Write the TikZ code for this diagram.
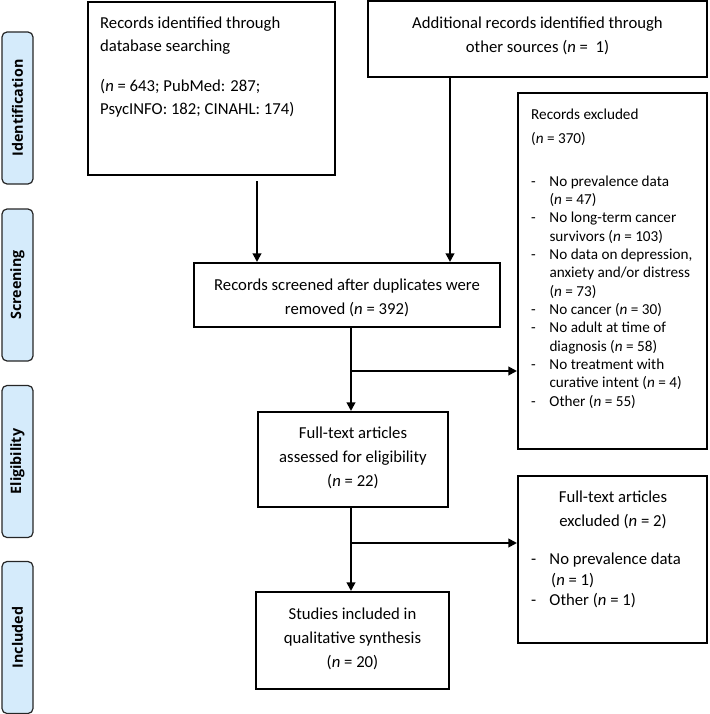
\documentclass[tikz,border=0pt]{standalone}
\usepackage{fontspec}
\setmainfont{Carlito}
\newfontfamily\labfont{Open Sans}
\usetikzlibrary{arrows.meta}
\definecolor{labblue}{HTML}{D5EBFB}
\newcommand\bulletdash{\makebox[18.3pt][l]{-}}
\newcommand\bulletind{\hspace*{18.3pt}}
\begin{document}
\begin{tikzpicture}[x=1pt,y=-1pt,
  box/.style={draw=black, line width=2.1pt, inner sep=0pt},
  txt/.style={inner sep=0pt, font=\fontsize{16.7}{23.5}\selectfont},
  txtsmall/.style={inner sep=0pt, font=\fontsize{15.2}{18.33}\selectfont},
  lab/.style={draw=black!85, line width=1.2pt, rounded corners=5pt, fill=labblue,
    rotate=90, minimum width=152pt, minimum height=31pt, inner sep=0pt,
    font=\labfont\bfseries\fontsize{14.3}{16}\selectfont},
  arr/.style={line width=2pt, -{Triangle[length=8.5pt,width=8.5pt]}}]
\useasboundingbox (0,0) rectangle (709,714);

% phase labels
\node[lab] (lid) at (17.5,108) {Identification};
\node[lab] (lsc) at (17.5,285) {Screening};
\node[lab] (lel) at (17.5,461.5) {Eligibility};
\node[lab] (lin) at (17.5,637.5) {Included};

% boxes
\node[box, minimum width=247pt, minimum height=173pt] (b1) at (211.5,88.5) {};
\node[txt, anchor=west, align=left] (b1t) at (100,67)
  {Records identified through\\ database searching\\[16pt]
   (\textit{n} = 643; PubMed: 287;\\ PsycINFO: 182; CINAHL: 174)};

\node[box, minimum width=339pt, minimum height=76pt] (b2) at (537.5,39) {};
\node[txt, align=center] (b2t) at (537.5,36)
  {Additional records identified through\\ other sources (\textit{n} = \ 1)};

\node[box, minimum width=306pt, minimum height=64pt] (sc) at (347,295) {};
\node[txt, align=center, font=\fontsize{16.7}{24}\selectfont] (sct) at (347,298)
  {Records screened after duplicates were\\ removed (\textit{n} = 392)};

\node[box, minimum width=189pt, minimum height=356pt] (ex1) at (612.5,271) {};
\node[txtsmall, anchor=west, align=left] (ex1t) at (531,258.5)
  {Records excluded\\[5.7pt] (\textit{n} = 370)\\[24.7pt]
   \bulletdash No prevalence data\\ \bulletind(\textit{n} = 47)\\
   \bulletdash No long-term cancer\\ \bulletind survivors (\textit{n} = 103)\\
   \bulletdash No data on depression,\\ \bulletind anxiety and/or distress\\ \bulletind(\textit{n} = 73)\\
   \bulletdash No cancer (\textit{n} = 30)\\
   \bulletdash No adult at time of\\ \bulletind diagnosis (\textit{n} = 58)\\
   \bulletdash No treatment with\\ \bulletind curative intent (\textit{n} = 4)\\
   \bulletdash Other (\textit{n} = 55)};

\node[box, minimum width=190pt, minimum height=95pt] (ft) at (353,459.5) {};
\node[txt, align=center, font=\fontsize{16.7}{24}\selectfont] (ftt) at (353,458)
  {Full-text articles\\ assessed for eligibility\\ (\textit{n} = 22)};

\node[box, minimum width=189pt, minimum height=167pt] (ex2) at (612.5,559.5) {};
\node[txt, align=center, font=\fontsize{16.7}{24}\selectfont] (ex2h) at (613,510)
  {Full-text articles\\ excluded (\textit{n} = 2)};
\node[txt, anchor=west, align=left, font=\fontsize{16.7}{20.5}\selectfont] (ex2t) at (531,580.5)
  {\bulletdash No prevalence data\\ \hspace*{20pt}(\textit{n} = 1)\\ \bulletdash Other (\textit{n} = 1)};

\node[box, minimum width=193pt, minimum height=97pt] (st) at (352.5,640.5) {};
\node[txt, align=center, font=\fontsize{16.7}{24}\selectfont] (stt) at (352.5,639)
  {Studies included in\\ qualitative synthesis\\ (\textit{n} = 20)};

% connector coordinates
\coordinate (ax1) at (257,0);
\coordinate (ax2) at (450,0);
\coordinate (mx) at (351,0);
\coordinate (br1) at (351,371);
\coordinate (br2) at (351,543);

\draw[arr, shorten <=5pt] (ax1 |- b1.south) -- (ax1 |- sc.north);
\draw[arr] (ax2 |- b2.south) -- (ax2 |- sc.north);
\draw[arr] (mx |- sc.south) -- (mx |- ft.north);
\draw[arr] (br1) -- (br1 -| ex1.west);
\draw[arr] (mx |- ft.south) -- (mx |- st.north);
\draw[arr] (br2) -- (br2 -| ex2.west);
\end{tikzpicture}
\end{document}
